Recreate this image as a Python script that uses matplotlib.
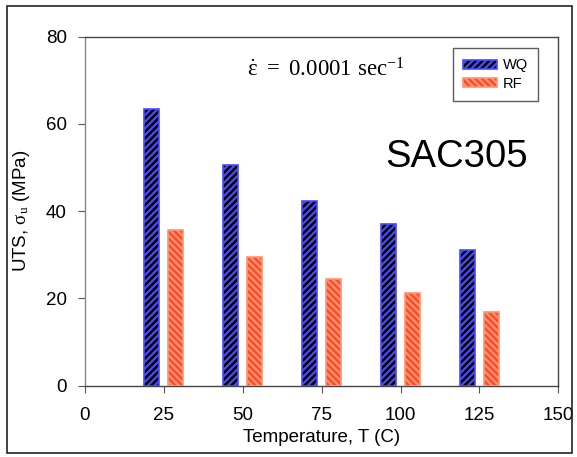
import matplotlib
matplotlib.use('Agg')
import numpy as np
import matplotlib.pyplot as plt
from matplotlib.patches import Rectangle

plt.rcParams['font.family'] = ['Liberation Sans', 'DejaVu Sans']
plt.rcParams['mathtext.fontset'] = 'custom'
plt.rcParams['mathtext.rm'] = 'Liberation Serif'
plt.rcParams['mathtext.it'] = 'Liberation Serif'
plt.rcParams['mathtext.fallback'] = 'stix'
plt.rcParams['hatch.linewidth'] = 1.6

temps = [25, 50, 75, 100, 125]
wq_uts = [63.4, 50.7, 42.3, 37.0, 31.2]
rf_uts = [35.7, 29.5, 24.5, 21.2, 17.0]

fig = plt.figure(figsize=(5.77, 4.57), dpi=100)
ax = fig.add_axes([0.1473, 0.156, 0.8203, 0.7637])

x = np.array(temps)
w = 4.8
ax.bar(x - 3.8, wq_uts, width=w, facecolor='black', edgecolor='#4a4aff',
       hatch='/////', linewidth=1.2, label='WQ', zorder=3)
ax.bar(x + 3.8, rf_uts, width=w, facecolor='#ff4a2a', edgecolor='#ff9470',
       hatch='\\\\\\\\\\', linewidth=1.2, label='RF', zorder=3)

ax.set_xlim(0, 150)
ax.set_ylim(0, 80)
ax.set_xticks([0, 25, 50, 75, 100, 125, 150])
ax.set_yticks([0, 20, 40, 60, 80])
ax.tick_params(labelsize=13.5, length=5, color='#555555', direction='out')
ax.tick_params(axis='x', pad=10)
ax.tick_params(axis='y', pad=8)
for s in ax.spines.values():
    s.set_color('#444444')
    s.set_linewidth(1.0)
ax.spines['left'].set_color('#888888')

ax.set_xlabel('Temperature, T (C)', fontsize=13.5, labelpad=4)
ax.set_ylabel(r'UTS, $\sigma_{\mathrm{u}}$ (MPa)', fontsize=13.5, labelpad=10,
              family=['Liberation Sans', 'DejaVu Sans'])

ax.text(76.4, 72.5, r'$\dot{\varepsilon}\ =\ 0.0001\ \mathrm{sec}^{-1}$',
        fontsize=16.5, ha='center', va='center')
ax.text(117.6, 52.4, 'SAC305', fontsize=27.5, ha='center', va='center')

leg = ax.legend(loc='upper right', bbox_to_anchor=(0.958, 0.967),
                borderaxespad=0, fontsize=10.5, handlelength=2.3,
                handleheight=0.6, fancybox=False, frameon=True,
                borderpad=0.7, labelspacing=0.3, handletextpad=0.45)
leg.get_frame().set_edgecolor('#333333')
leg.get_frame().set_linewidth(1.0)

# outer border around the whole picture
fig.patches.append(Rectangle((0.012, 0.009), 0.979, 0.977, transform=fig.transFigure,
                             fill=False, edgecolor='#222222', linewidth=1.2))

fig.savefig('out.png', dpi=100)
